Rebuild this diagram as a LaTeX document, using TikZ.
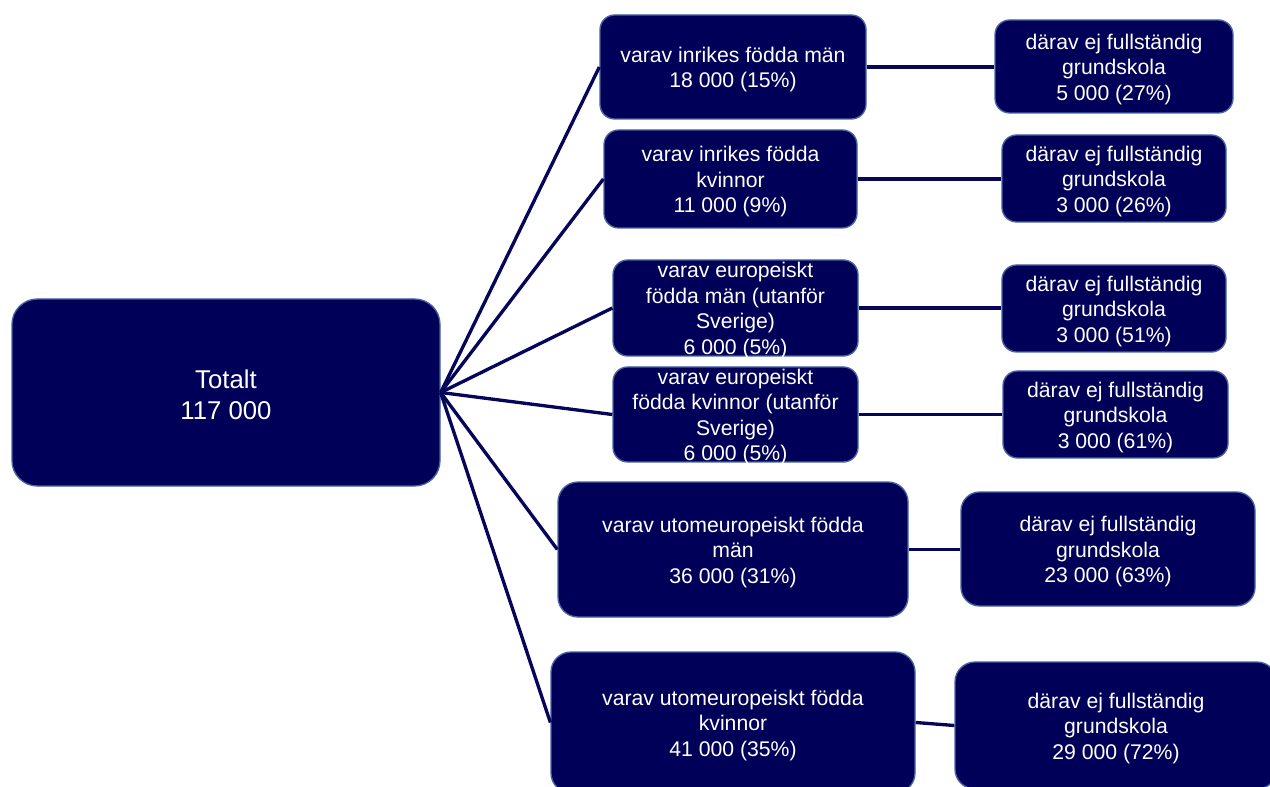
\documentclass[tikz,border=0pt]{standalone}
\usepackage{fontspec}
\setmainfont{Liberation Sans}
\definecolor{navy}{RGB}{0,0,88}
\definecolor{edge}{RGB}{70,100,160}
\definecolor{wire}{RGB}{5,5,90}
\tikzset{
  box/.style 2 args={draw=edge, line width=1pt, fill=navy, rounded corners=11pt,
    minimum width=#1*0.75pt, minimum height=#2*0.75pt, inner sep=0pt},
  txt/.style={text=white, align=center, font=\fontsize{15.9}{19.1}\selectfont, inner sep=0pt, yshift=-2pt},
  wirestyle/.style={draw=wire, line width=2.5pt}
}
\begin{document}
\begin{tikzpicture}[x=0.75pt,y=-0.75pt]
\useasboundingbox (0,0) rectangle (1270,787);
\clip (0,0) rectangle (1270,787);
% boxes
\node[box={428}{187}, rounded corners=19pt] (tot) at (226,392.5) {};
\node[box={266}{104}] (b1) at (733,67) {};
\node[box={238}{93}] (c1) at (1114,66.5) {};
\node[box={253}{98}] (b2) at (730.5,179) {};
\node[box={224}{87}] (c2) at (1114,178.5) {};
\node[box={245}{96}] (b3) at (735.5,308) {};
\node[box={224}{87}] (c3) at (1114,308.5) {};
\node[box={245}{95}] (b4) at (735.5,414.5) {};
\node[box={225}{87}] (c4) at (1115.5,414.5) {};
\node[box={350}{135}, rounded corners=15pt] (b5) at (733,549.5) {};
\node[box={294}{114}, rounded corners=14pt] (c5) at (1108,549) {};
\node[box={364}{141}, rounded corners=15pt] (b6) at (733,722.5) {};
\node[box={322}{127}, rounded corners=15pt] (c6) at (1116,725.5) {};
% connectors
\foreach \b in {b1,b2,b3,b4,b5,b6}{
  \draw[wirestyle] (tot.east) -- (\b.west);
}
\draw[wirestyle] (b1.east) -- (c1.west |- b1.east);
\draw[wirestyle] (b2.east) -- (c2.west |- b2.east);
\draw[wirestyle] (b3.east) -- (c3.west |- b3.east);
\draw[wirestyle] (b4.east) -- (c4.west |- b4.east);
\draw[wirestyle] (b5.east) -- (c5.west |- b5.east);
\draw[wirestyle] (b6.east) -- (c6.west);
% texts
\node[txt, font=\fontsize{19.3}{23.3}\selectfont] (ttot) at (tot) {Totalt\\117 000};
\node[txt] (tb1) at (b1) {varav inrikes födda män\\18 000 (15\%)};
\node[txt] (tc1) at (c1) {därav ej fullständig\\grundskola\\5 000 (27\%)};
\node[txt] (tb2) at (b2) {varav inrikes födda\\kvinnor\\11 000 (9\%)};
\node[txt] (tc2) at (c2) {därav ej fullständig\\grundskola\\3 000 (26\%)};
\node[txt] (tb3) at (b3) {varav europeiskt\\födda män (utanför\\Sverige)\\6 000 (5\%)};
\node[txt] (tc3) at (c3) {därav ej fullständig\\grundskola\\3 000 (51\%)};
\node[txt] (tb4) at (b4) {varav europeiskt\\födda kvinnor (utanför\\Sverige)\\6 000 (5\%)};
\node[txt] (tc4) at (c4) {därav ej fullständig\\grundskola\\3 000 (61\%)};
\node[txt] (tb5) at (b5) {varav utomeuropeiskt födda\\män\\36 000 (31\%)};
\node[txt] (tc5) at (c5) {därav ej fullständig\\grundskola\\23 000 (63\%)};
\node[txt] (tb6) at (b6) {varav utomeuropeiskt födda\\kvinnor\\41 000 (35\%)};
\node[txt] (tc6) at (c6) {därav ej fullständig\\grundskola\\29 000 (72\%)};
\end{tikzpicture}
\end{document}
